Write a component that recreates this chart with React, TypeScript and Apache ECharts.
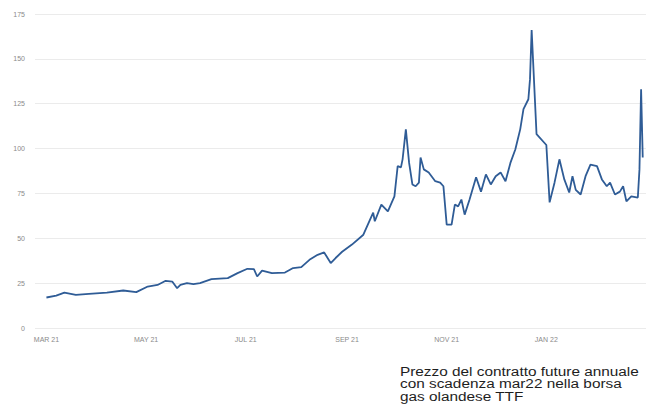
import React, { useEffect, useRef } from "react";
import * as echarts from "echarts";

const dates: string[] = [
  "2021-03-01", "2021-03-07", "2021-03-12", "2021-03-19", "2021-03-27", "2021-04-07", "2021-04-17", "2021-04-25",
  "2021-05-02", "2021-05-08", "2021-05-13", "2021-05-17", "2021-05-20", "2021-05-22", "2021-05-26", "2021-05-30",
  "2021-06-03", "2021-06-10", "2021-06-20", "2021-06-26", "2021-07-02", "2021-07-06", "2021-07-08", "2021-07-11",
  "2021-07-17", "2021-07-25", "2021-07-30", "2021-08-04", "2021-08-09", "2021-08-14", "2021-08-18", "2021-08-22",
  "2021-08-25", "2021-08-29", "2021-09-04", "2021-09-11", "2021-09-17", "2021-09-18", "2021-09-22", "2021-09-26",
  "2021-09-30", "2021-10-02", "2021-10-04", "2021-10-05", "2021-10-07", "2021-10-09", "2021-10-11", "2021-10-13",
  "2021-10-15", "2021-10-16", "2021-10-18", "2021-10-21", "2021-10-25", "2021-10-28", "2021-10-30", "2021-11-01",
  "2021-11-04", "2021-11-06", "2021-11-08", "2021-11-10", "2021-11-12", "2021-11-15", "2021-11-19", "2021-11-22",
  "2021-11-25", "2021-11-28", "2021-12-01", "2021-12-04", "2021-12-07", "2021-12-10", "2021-12-13", "2021-12-16",
  "2021-12-18", "2021-12-21", "2021-12-22", "2021-12-23", "2021-12-26", "2022-01-01", "2022-01-03", "2022-01-06",
  "2022-01-09", "2022-01-12", "2022-01-15", "2022-01-17", "2022-01-19", "2022-01-22", "2022-01-25", "2022-01-28",
  "2022-02-01", "2022-02-04", "2022-02-07", "2022-02-09", "2022-02-12", "2022-02-15", "2022-02-17", "2022-02-19",
  "2022-02-22", "2022-02-26", "2022-02-27", "2022-02-28", "2022-03-01",
];

const prices: number[] = [
  17, 18, 19.7, 18.5, 19, 19.7, 20.9, 20,
  23.1, 24, 26.3, 25.9, 22.2, 24, 25, 24.4,
  25, 27.2, 27.8, 30.6, 33, 32.8, 28.7, 32,
  30.6, 30.9, 33.4, 33.9, 38, 40.8, 42.1, 36.2,
  39, 42.5, 46.5, 52, 64.3, 59.5, 68.8, 65,
  73.4, 90.2, 89.5, 94, 110.7, 92, 80, 79,
  81, 95, 88.4, 86.7, 81.8, 81, 79, 57.6,
  57.6, 68.8, 67.8, 71.6, 63.2, 71.6, 84, 76,
  85.6, 80, 84.6, 86.7, 81.8, 92, 99.5, 110.7,
  122, 127.5, 138.7, 166, 108, 102, 70, 81,
  94, 82.8, 75.5, 84.6, 77, 74.4, 84.6, 91,
  90.2, 82.8, 79, 81, 74.4, 76, 79, 70.6,
  73.4, 72.7, 88.4, 133, 95,
];

const tickDates: string[] = ["2021-03-01", "2021-05-01", "2021-07-01", "2021-09-01", "2021-11-01", "2022-01-01"];
const tickLabels: string[] = ["MAR 21", "MAY 21", "JUL 21", "SEP 21", "NOV 21", "JAN 22"];
const yTicks: number[] = [0, 25, 50, 75, 100, 125, 150, 175];

const noteLines: string[] = [
  "Prezzo del contratto future annuale",
  "con scadenza mar22 nella borsa",
  "gas olandese TTF",
];

const ts = (s: string) => new Date(s + "T00:00:00Z").getTime();

export default function App() {
  const ref = useRef<HTMLDivElement>(null);
  useEffect(() => {
    if (!ref.current) return;
    const chart = echarts.init(ref.current, undefined, { renderer: "svg" });
    const tickVals = tickDates.map(ts);
    chart.setOption({
      animation: false,
      backgroundColor: "#ffffff",
      grid: { left: 35, right: 0, top: 14, height: 314, containLabel: false },
      xAxis: {
        type: "value",
        min: ts("2021-02-22"),
        max: ts("2022-03-03"),
        axisLine: { show: false },
        axisTick: { show: false },
        splitLine: { show: false },
        axisLabel: {
          customValues: tickVals,
          formatter: (v: number) => {
            const i = tickVals.indexOf(v);
            return i >= 0 ? tickLabels[i] : "";
          },
          color: "#8a8a8a",
          fontSize: 7,
          fontFamily: "Liberation Sans, Arial, sans-serif",
          margin: 8,
        },
      },
      yAxis: {
        type: "value",
        min: yTicks[0],
        max: yTicks[yTicks.length - 1],
        interval: 25,
        axisLine: { show: false },
        axisTick: { show: false },
        splitLine: { show: true, lineStyle: { color: "#ebebeb", width: 1 } },
        axisLabel: {
          color: "#8a8a8a",
          fontSize: 7,
          fontFamily: "Liberation Sans, Arial, sans-serif",
          margin: 10,
        },
      },
      series: [
        {
          type: "line",
          data: dates.map((d, i) => [ts(d), prices[i]]),
          showSymbol: false,
          symbol: "none",
          lineStyle: { color: "#2f5c96", width: 1.8 },
        },
      ],
      graphic: noteLines.map((t, i) => ({
        type: "text",
        x: 400,
        y: 366 + i * 12.5,
        scaleX: 1.28,
        style: {
          text: t,
          fill: "#1e1e1e",
          font: '12px "Liberation Sans", Arial, sans-serif',
          textVerticalAlign: "top",
        },
      })),
    });
    return () => chart.dispose();
  }, []);
  return (
    <div
      ref={ref}
      style={{ position: "fixed", left: 0, top: 0, width: 646, height: 414 }}
    />
  );
}
